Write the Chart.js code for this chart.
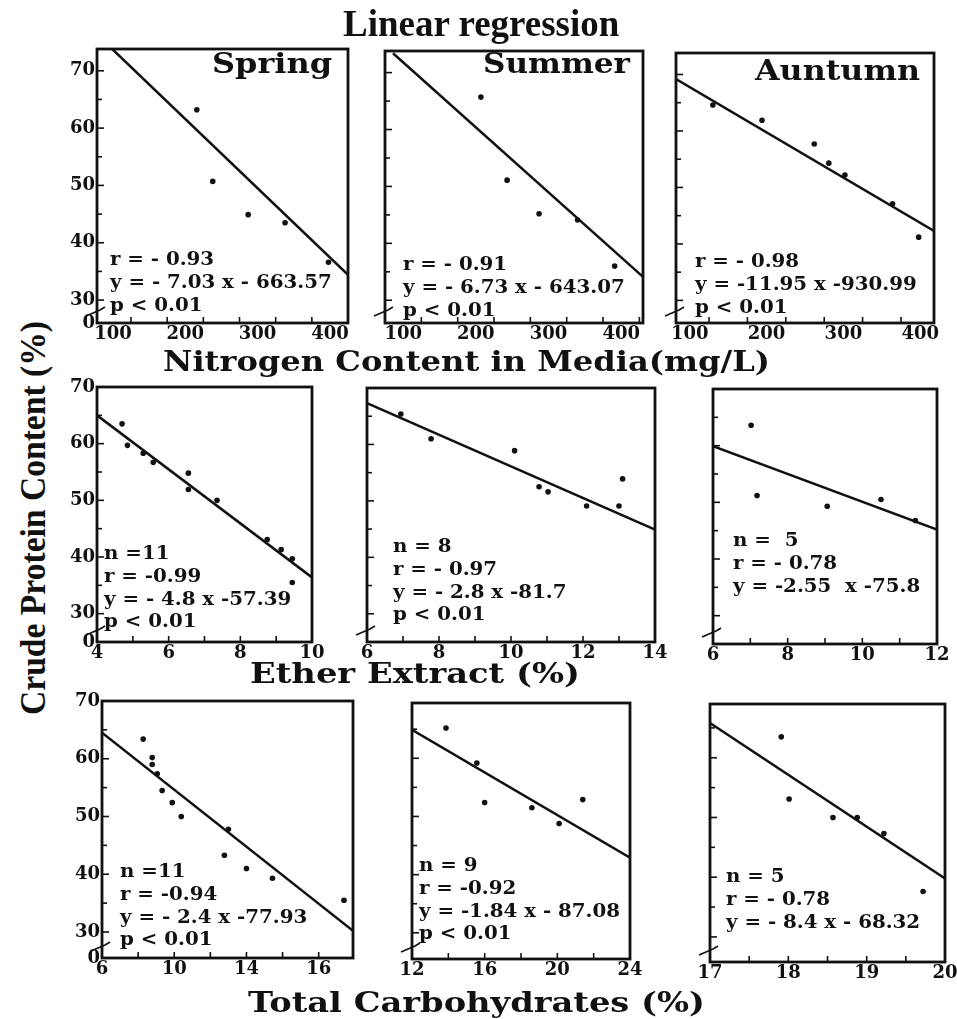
<!DOCTYPE html>
<html>
<head>
<meta charset="utf-8">
<script src="https://cdn.jsdelivr.net/npm/chart.js@4.4.1/dist/chart.umd.min.js"></script>
<style>
  body { margin: 0; background: #fff; }
  #page { position: relative; width: 957px; height: 1019px; overflow: hidden; background: #fff; }
  #page canvas { position: absolute; }
</style>
</head>
<body>
<div id="page"></div>
<script>
// crude protein axis (the bottom tick is the broken "0")
var proteinTicks = [30, 40, 50, 60, 70];

// row 1: nitrogen content in media (mg/L)
var nitrogenTicks = [100, 200, 300, 400];
var springX = [216, 238, 287, 338, 398];
var springY = [63.2, 50.7, 44.9, 43.5, 36.6];
var springFitX = [99, 425];
var springFitY = [73.8, 34.4];
var springNotes = ["r = - 0.93", "y = - 7.03 x - 663.57", "p < 0.01"];

var summerX = [207, 243, 287, 340, 391];
var summerY = [65.7, 51.1, 45.2, 44.1, 36.0];
var summerFitX = [86, 430];
var summerFitY = [73.4, 34.1];
var summerNotes = ["r = - 0.91", "y = - 6.73 x - 643.07", "p < 0.01"];

var autumnX = [130, 194, 262, 281, 302, 364, 398];
var autumnY = [64.6, 61.9, 57.7, 54.3, 52.2, 47.1, 41.2];
var autumnFitX = [82, 418];
var autumnFitY = [69.2, 42.3];
var autumnNotes = ["r = - 0.98", "y = -11.95 x -930.99", "p < 0.01"];

// row 2: ether extract (%)
var etherTicksA = [4, 6, 8, 10];
var etherTicksB = [6, 8, 10, 12, 14];
var etherTicksC = [6, 8, 10, 12];
var eeSpringX = [4.70, 4.85, 5.29, 5.57, 6.55, 6.55, 7.35, 8.75, 9.14, 9.45, 9.45];
var eeSpringY = [63.5, 59.7, 58.3, 56.7, 54.8, 51.9, 50.0, 43.1, 41.3, 39.7, 35.5];
var eeSpringFitX = [4, 10];
var eeSpringFitY = [65.0, 36.4];
var eeSpringNotes = ["n =11", "r = -0.99", "y = - 4.8 x -57.39", "p < 0.01"];

var eeSummerX = [6.94, 7.78, 10.1, 10.78, 11.03, 12.1, 13.0, 13.1];
var eeSummerY = [65.4, 61.0, 58.9, 52.5, 51.6, 49.1, 49.1, 53.9];
var eeSummerFitX = [6, 14];
var eeSummerFitY = [67.3, 44.9];
var eeSummerNotes = ["n = 8", "r = - 0.97", "y = - 2.8 x -81.7", "p < 0.01"];

var eeAutumnX = [7.02, 7.18, 9.06, 10.5, 11.42];
var eeAutumnY = [63.6, 51.2, 49.3, 50.5, 46.8];
var eeAutumnFitX = [6, 12];
var eeAutumnFitY = [59.9, 45.2];
var eeAutumnNotes = ["n =  5", "r = - 0.78", "y = -2.55  x -75.8"];

// row 3: total carbohydrates (%)
var carbTicksA = [6, 10, 14, 18];
var carbTickTextA = ["6", "10", "14", "16"];
var carbTicksB = [12, 16, 20, 24];
var carbTicksC = [17, 18, 19, 20];
var tcSpringX = [8.28, 8.78, 8.78, 9.06, 9.33, 9.89, 10.39, 12.78, 13.0, 14.0, 15.44, 19.4];
var tcSpringY = [63.4, 60.2, 59.0, 57.4, 54.5, 52.4, 50.0, 43.3, 47.8, 41.0, 39.3, 35.5];
var tcSpringFitX = [6, 19.9];
var tcSpringFitY = [64.5, 30.2];
var tcSpringNotes = ["n =11", "r = -0.94", "y = - 2.4 x -77.93", "p < 0.01"];

var tcSummerX = [13.87, 15.57, 16.0, 18.6, 20.1, 21.4];
var tcSummerY = [65.2, 59.2, 52.4, 51.5, 48.8, 52.9];
var tcSummerFitX = [12, 24];
var tcSummerFitY = [64.9, 42.9];
var tcSummerNotes = ["n = 9", "r = -0.92", "y = -1.84 x - 87.08", "p < 0.01"];

var tcAutumnX = [17.91, 18.01, 18.57, 18.88, 19.22, 19.72];
var tcAutumnY = [63.5, 53.1, 50.0, 50.0, 47.3, 37.6];
var tcAutumnFitX = [17, 20];
var tcAutumnFitY = [65.8, 39.8];
var tcAutumnNotes = ["n = 5", "r = - 0.78", "y = - 8.4 x - 68.32"];

var ink = "#111";
var serif = '"DejaVu Serif", serif';
var padTop = 14;

// box = plot frame on the page; xr/yr = axis ranges; xm = inside x tick start/step
var panels = [
  { box: [97, 49, 348, 323], xr: [78, 425], yr: [26, 73.8], xt: nitrogenTicks, xm: [125, 50], yl: true,
    px: springX, py: springY, fx: springFitX, fy: springFitY, season: ["Spring", 115, 235, 24], notes: springNotes, np: [13, 216] },
  { box: [385, 51, 643, 323], xr: [75, 430], yr: [26, 73.8], xt: nitrogenTicks, xm: [125, 50], yl: false,
    px: summerX, py: summerY, fx: summerFitX, fy: summerFitY, season: ["Summer", 98, 245, 22], notes: summerNotes, np: [18, 219] },
  { box: [676, 53, 934, 323], xr: [82, 418], yr: [26, 73.8], xt: nitrogenTicks, xm: [125, 50], yl: false,
    px: autumnX, py: autumnY, fx: autumnFitX, fy: autumnFitY, season: ["Auntumn", 79, 244, 27], notes: autumnNotes, np: [19, 214] },
  { box: [97, 387, 312, 642], xr: [4, 10], yr: [25, 70], xt: etherTicksA, xm: [5, 1], yl: true,
    px: eeSpringX, py: eeSpringY, fx: eeSpringFitX, fy: eeSpringFitY, notes: eeSpringNotes, np: [7, 172] },
  { box: [367, 388, 655, 642], xr: [6, 14], yr: [25, 70], xt: etherTicksB, xm: [7, 1], yl: false,
    px: eeSummerX, py: eeSummerY, fx: eeSummerFitX, fy: eeSummerFitY, notes: eeSummerNotes, np: [26, 164] },
  { box: [713, 389, 937, 644], xr: [6, 12], yr: [25, 70], xt: etherTicksC, xm: [7, 1], yl: false,
    px: eeAutumnX, py: eeAutumnY, fx: eeAutumnFitX, fy: eeAutumnFitY, notes: eeAutumnNotes, np: [20, 157] },
  { box: [102, 701, 353, 958], xr: [6, 19.9], yr: [25.5, 70], xt: carbTicksA, xl: carbTickTextA, xm: [8, 2], yl: true,
    px: tcSpringX, py: tcSpringY, fx: tcSpringFitX, fy: tcSpringFitY, notes: tcSpringNotes, np: [18, 176] },
  { box: [412, 703, 630, 959], xr: [12, 24], yr: [25.5, 69.5], xt: carbTicksB, xm: [14, 2], yl: false,
    px: tcSummerX, py: tcSummerY, fx: tcSummerFitX, fy: tcSummerFitY, notes: tcSummerNotes, np: [7, 168] },
  { box: [710, 704, 945, 962], xr: [17, 20], yr: [25.8, 69], xt: carbTicksC, xm: [17.5, 0.5], yl: false,
    px: tcAutumnX, py: tcAutumnY, fx: tcAutumnFitX, fy: tcAutumnFitY, notes: tcAutumnNotes, np: [16, 178] }
];

function stretched(ctx, text, x, y, sx) {
  ctx.save();
  ctx.translate(x, y);
  ctx.scale(sx, 1);
  ctx.fillText(text, 0, 0);
  ctx.restore();
}

function decor(p) {
  return {
    id: "decor",
    afterDraw: function (chart) {
      var ctx = chart.ctx, a = chart.chartArea, xs = chart.scales.x, ys = chart.scales.y;
      ctx.save();
      ctx.strokeStyle = ink;
      ctx.fillStyle = ink;
      ctx.lineWidth = 1.6;
      // ticks pointing into the frame
      for (var v = 30; v <= ys.max; v += 5) {
        var yy = ys.getPixelForValue(v);
        ctx.beginPath();
        ctx.moveTo(a.left, yy);
        ctx.lineTo(a.left + (v % 10 === 0 ? 7 : 5), yy);
        ctx.stroke();
      }
      for (var u = p.xm[0]; u < xs.max - 1e-6; u += p.xm[1]) {
        var xx = xs.getPixelForValue(u);
        ctx.beginPath();
        ctx.moveTo(xx, a.bottom);
        ctx.lineTo(xx, a.bottom - 6);
        ctx.stroke();
      }
      // frame
      ctx.lineWidth = 2.8;
      ctx.strokeRect(a.left, a.top, a.right - a.left, a.bottom - a.top);
      // axis break
      var by = a.bottom - 12;
      ctx.lineWidth = 1.6;
      ctx.beginPath();
      ctx.moveTo(a.left - 11, by + 5);
      ctx.lineTo(a.left - 4, by + 2);
      ctx.lineTo(a.left + 3, by - 1);
      ctx.lineTo(a.left + 8, by - 4);
      ctx.stroke();
      // season name
      if (p.season) {
        ctx.font = "bold 27px " + serif;
        var w = ctx.measureText(p.season[0]).width;
        stretched(ctx, p.season[0], a.left + p.season[1], a.top + p.season[3], (p.season[2] - p.season[1]) / w);
      }
      // statistics
      ctx.font = "bold 18px " + serif;
      p.notes.forEach(function (t, i) {
        stretched(ctx, t, a.left + p.np[0], a.top + p.np[1] + i * 22.8, 1.1);
      });
      ctx.restore();
    }
  };
}

var page = document.getElementById("page");
var tickFont = { family: serif, size: 18, weight: "bold" };

panels.forEach(function (p) {
  var b = p.box;
  var cv = document.createElement("canvas");
  cv.width = (b[2] - b[0]) + 40 + 18;
  cv.height = (b[3] - b[1]) + padTop + 30;
  cv.style.left = (b[0] - 40) + "px";
  cv.style.top = (b[1] - padTop) + "px";
  page.appendChild(cv);

  new Chart(cv, {
    type: "scatter",
    data: {
      datasets: [{
        data: p.fx.map(function (x, i) { return { x: x, y: p.fy[i] }; }),
        showLine: true,
        borderColor: ink,
        borderWidth: 2.5,
        pointRadius: 0
      }, {
        data: p.px.map(function (x, i) { return { x: x, y: p.py[i] }; }),
        backgroundColor: ink,
        borderWidth: 0,
        pointRadius: 2.8
      }]
    },
    options: {
      responsive: false,
      animation: false,
      events: [],
      layout: { padding: { top: padTop, right: 18, left: 0, bottom: 0 } },
      plugins: { legend: { display: false }, tooltip: { enabled: false } },
      scales: {
        x: {
          type: "linear",
          min: p.xr[0],
          max: p.xr[1],
          grid: { display: false, drawTicks: false },
          border: { display: false },
          afterBuildTicks: function (s) { s.ticks = p.xt.map(function (v) { return { value: v }; }); },
          afterFit: function (s) { s.height = 30; },
          ticks: {
            font: tickFont, color: ink, padding: 1, maxRotation: 0, autoSkip: false,
            callback: function (v, i) { return p.xl ? p.xl[i] : v; }
          }
        },
        y: {
          type: "linear",
          min: p.yr[0],
          max: p.yr[1],
          grid: { display: false, drawTicks: false },
          border: { display: false },
          afterBuildTicks: function (s) {
            s.ticks = [p.yr[0]].concat(proteinTicks.filter(function (v) { return v <= p.yr[1]; }))
              .map(function (v) { return { value: v }; });
          },
          afterFit: function (s) { s.width = 40; },
          ticks: {
            display: p.yl, font: tickFont, color: ink, padding: 2, autoSkip: false,
            callback: function (v) { return v === p.yr[0] ? "0" : v; }
          }
        }
      }
    },
    plugins: [decor(p)]
  });
});

// page-level titles, fitted to the widths they take in the figure
var meter = document.createElement("canvas").getContext("2d");
function place(text, font, size, from, to, base, vertical) {
  meter.font = "bold " + size + "px " + font;
  var m = meter.measureText(text);
  var off = size / 2 + (m.fontBoundingBoxAscent - m.fontBoundingBoxDescent) / 2;
  var s = Math.abs(to - from) / m.width;
  var d = document.createElement("div");
  d.textContent = text;
  d.style.cssText = "position:absolute;white-space:nowrap;transform-origin:0 0;color:" + ink +
    ";font:bold " + size + "px " + font + ";line-height:" + size + "px";
  if (vertical) {
    d.style.left = (base - off) + "px";
    d.style.top = from + "px";
    d.style.transform = "rotate(-90deg) scaleX(" + s + ")";
  } else {
    d.style.left = from + "px";
    d.style.top = (base - off) + "px";
    d.style.transform = "scaleX(" + s + ")";
  }
  page.appendChild(d);
}
place("Linear regression", '"Liberation Serif", serif', 37, 343, 620, 36);
place("Nitrogen Content in Media(mg/L)", serif, 28, 163, 770, 371);
place("Ether Extract (%)", serif, 28, 250, 580, 683);
place("Total Carbohydrates (%)", serif, 28, 248, 705, 1012);
place("Crude Protein Content (%)", '"Liberation Serif", serif', 36, 715, 321, 45, true);
</script>
</body>
</html>
